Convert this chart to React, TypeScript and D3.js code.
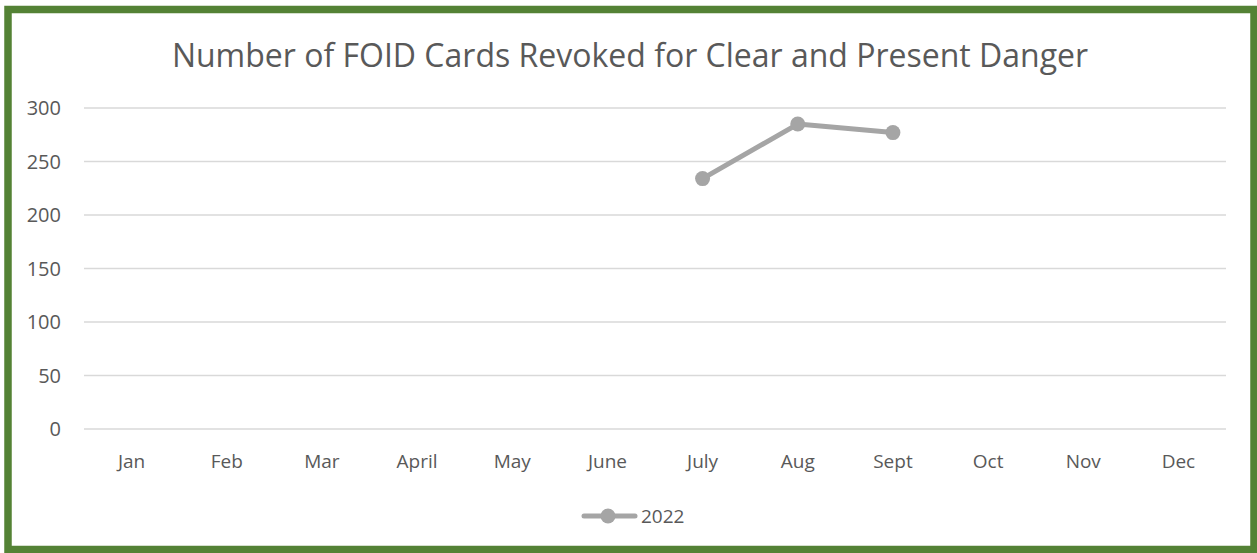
import React, { useEffect, useRef } from "react";
import * as d3 from "d3";

const months = ["Jan", "Feb", "Mar", "April", "May", "June", "July", "Aug", "Sept", "Oct", "Nov", "Dec"];
const revoked2022: (number | null)[] = [null, null, null, null, null, null, 234, 285, 277, null, null, null];
const yTicks = [0, 50, 100, 150, 200, 250, 300];
const seriesName = "2022";

const App = () => {
  const ref = useRef<SVGSVGElement>(null);

  useEffect(() => {
    const width = 1257;
    const height = 553;
    const left = 84;
    const right = 1226;
    const top = 108;
    const bottom = 429;
    const font = "'Open Sans', sans-serif";

    const svg = d3.select(ref.current);
    svg.selectAll("*").remove();

    svg.append("rect").attr("width", width).attr("height", height).attr("fill", "#fff");

    // green frame
    svg
      .append("rect")
      .attr("x", 8)
      .attr("y", 9.5)
      .attr("width", 1246)
      .attr("height", 540)
      .attr("fill", "none")
      .attr("stroke", "#548235")
      .attr("stroke-width", 7.5);

    svg
      .append("text")
      .attr("x", 630)
      .attr("y", 67)
      .attr("text-anchor", "middle")
      .style("font-family", font)
      .style("font-size", "32px")
      .style("fill", "#595959")
      .text("Number of FOID Cards Revoked for Clear and Present Danger");

    const x = d3.scaleBand().domain(months).range([left, right]);
    const y = d3.scaleLinear().domain([0, 300]).range([bottom, top]);

    svg
      .selectAll("line.grid")
      .data(yTicks)
      .join("line")
      .attr("class", "grid")
      .attr("x1", left)
      .attr("x2", right)
      .attr("y1", (d) => y(d))
      .attr("y2", (d) => y(d))
      .attr("stroke", "#d9d9d9")
      .attr("stroke-width", 1.3);

    svg
      .selectAll("text.ytick")
      .data(yTicks)
      .join("text")
      .attr("class", "ytick")
      .attr("x", 61)
      .attr("y", (d) => y(d) + 7)
      .attr("text-anchor", "end")
      .style("font-family", font)
      .style("font-size", "20px")
      .style("fill", "#595959")
      .text((d) => d);

    svg
      .selectAll("text.xtick")
      .data(months)
      .join("text")
      .attr("class", "xtick")
      .attr("x", (d) => (x(d) as number) + x.bandwidth() / 2)
      .attr("y", 468)
      .attr("text-anchor", "middle")
      .style("font-family", font)
      .style("font-size", "19px")
      .style("fill", "#595959")
      .text((d) => d);

    const pts = months
      .map((m, i) => ({ m, v: revoked2022[i] }))
      .filter((d) => d.v !== null) as { m: string; v: number }[];

    const line = d3
      .line<{ m: string; v: number }>()
      .x((d) => (x(d.m) as number) + x.bandwidth() / 2)
      .y((d) => y(d.v));

    svg
      .append("path")
      .datum(pts)
      .attr("d", line)
      .attr("fill", "none")
      .attr("stroke", "#a5a5a5")
      .attr("stroke-width", 5)
      .attr("stroke-linejoin", "round")
      .attr("stroke-linecap", "round");

    svg
      .selectAll("circle.pt")
      .data(pts)
      .join("circle")
      .attr("class", "pt")
      .attr("cx", (d) => (x(d.m) as number) + x.bandwidth() / 2)
      .attr("cy", (d) => y(d.v))
      .attr("r", 7.5)
      .attr("fill", "#a5a5a5");

    // legend
    const lg = svg.append("g");
    lg.append("line")
      .attr("x1", 584)
      .attr("x2", 635)
      .attr("y1", 516)
      .attr("y2", 516)
      .attr("stroke", "#a5a5a5")
      .attr("stroke-width", 5)
      .attr("stroke-linecap", "round");
    lg.append("circle").attr("cx", 608).attr("cy", 516).attr("r", 7.5).attr("fill", "#a5a5a5");
    lg.append("text")
      .attr("x", 641)
      .attr("y", 523)
      .style("font-family", font)
      .style("font-size", "19px")
      .style("fill", "#595959")
      .text(seriesName);
  }, []);

  return (
    <svg
      ref={ref}
      width={1257}
      height={553}
      style={{ position: "absolute", left: 0, top: 0, display: "block" }}
    />
  );
};

export default App;
